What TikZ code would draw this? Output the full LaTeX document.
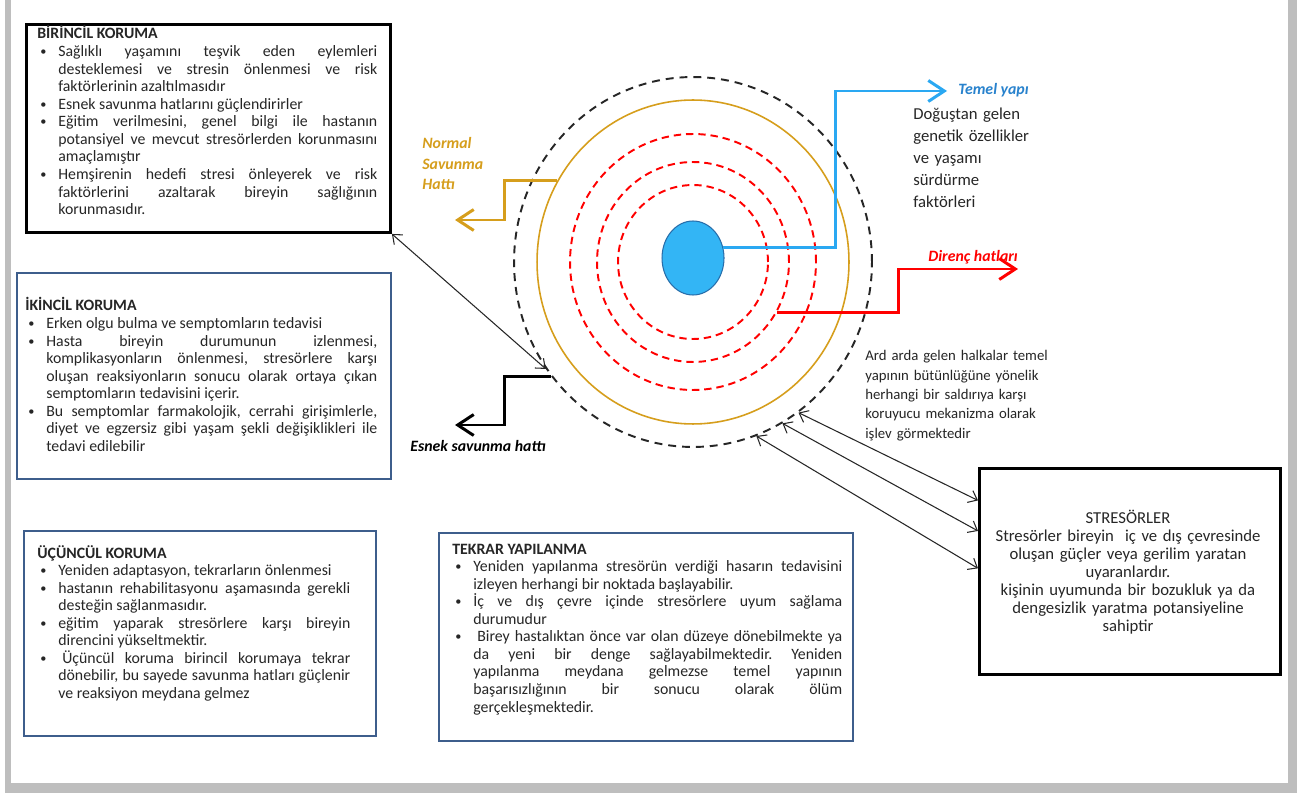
\documentclass[tikz,border=0pt]{standalone}
\usepackage{fontspec}
\setmainfont{Carlito}
\usetikzlibrary{calc,arrows.meta,shapes.geometric,positioning}

\definecolor{kutumavi}{RGB}{62,94,140}
\definecolor{temelmavi}{RGB}{42,168,242}
\definecolor{temelyazi}{RGB}{40,130,205}
\definecolor{cekirdek}{RGB}{51,181,245}
\definecolor{cekirdekkenar}{RGB}{40,110,170}
\definecolor{altin}{RGB}{214,158,28}
\definecolor{yazi}{RGB}{38,38,38}
\definecolor{kenar}{RGB}{190,190,190}

\frenchspacing
\newlength{\bulind}
\setlength{\bulind}{0.42cm}
\newcommand{\titem}[1]{\par\noindent\hangindent=\bulind\hangafter=1\makebox[\bulind][l]{\hspace{0.06cm}\raisebox{0.15ex}{\scriptsize\textbullet}}#1\par}

\begin{document}
\begin{tikzpicture}[x=0.02cm, y=-0.02cm,
    blackbox/.style={draw=black, line width=1.7pt, inner sep=0pt, anchor=north west},
    bluebox/.style={draw=kutumavi, line width=1.3pt, inner sep=0pt, anchor=north west},
    boxtext/.style={anchor=base west, inner sep=0pt, text=yazi, align=justify,
        font=\fontsize{9}{10}\selectfont,
        execute at begin node={\tolerance=10000\hyphenpenalty=10000\exhyphenpenalty=10000}},
    ring/.style={ellipse, inner sep=0pt, line width=1.1pt},
    redring/.style={ring, draw=red, dash pattern=on 4.2pt off 2.8pt},
    lbl/.style={inner sep=0pt, font=\fontsize{9}{11.4}\selectfont\bfseries\itshape},
    thickline/.style={line width=1.7pt, -{Straight Barb[length=0.32cm,width=0.42cm]}},
    twoway/.style={line width=0.6pt, black!85, {Straight Barb[length=1.6mm,width=2.6mm]}-{Straight Barb[length=1.6mm,width=2.6mm]}}
  ]
  % sayfa kenari
  \fill[white] (0,0) rectangle (1297,793);
  \fill[kenar] (5,0) rectangle (11,793);
  \fill[kenar] (1288,0) rectangle (1297,793);
  \fill[kenar] (5,783) rectangle (1297,793);
  \useasboundingbox (0,0) rectangle (1297,793);

  % halkalar
  \node[ring, draw=black!85, dash pattern=on 4.5pt off 3.4pt, minimum width=7.16cm, minimum height=7.4cm] (esnek) at (693,262) {};
  \node[ring, draw=altin, line width=0.9pt, minimum width=6.24cm, minimum height=6.48cm] (normal) at (693,262) {};
  \node[redring, minimum width=4.92cm, minimum height=5.12cm] (direnc3) at (693,262) {};
  \node[redring, minimum width=3.84cm, minimum height=4cm] (direnc2) at (693,262) {};
  \node[redring, minimum width=3cm, minimum height=3.08cm] (direnc1) at (693,262) {};
  \node[ring, fill=cekirdek, draw=cekirdekkenar, line width=0.6pt, minimum width=1.24cm, minimum height=1.48cm] (temel) at (693,258) {};

  % etiketler
  \node[lbl, text=temelyazi, anchor=base west] (temelLbl) at (958,95) {Temel yapı};
  \node[anchor=base west, inner sep=0pt, text width=3.2cm, align=left, text=yazi, font=\fontsize{9.5}{12.5}\selectfont] (temelAcik) at (913,120) {Doğuştan gelen\\genetik özellikler\\ve yaşamı\\sürdürme\\faktörleri};
  \node[lbl, text=red, anchor=base west] (direncLbl) at (928,262) {Direnç hatları};
  \node[lbl, text=altin, anchor=base west, text width=2cm, align=left] (normalLbl) at (422,149) {Normal\\Savunma\\Hattı};
  \node[lbl, anchor=base west] (esnekLbl) at (410,451) {Esnek savunma hattı};
  \node[anchor=base west, inner sep=0pt, text width=4.2cm, align=left, text=yazi, font=\fontsize{8.4}{11}\selectfont] (halkaAcik) at (865,361) {Ard arda gelen halkalar temel\\yapının bütünlüğüne yönelik\\herhangi bir saldırıya karşı\\koruyucu mekanizma olarak\\işlev görmektedir};

  % renkli oklar
  \coordinate (temelUc) at (947,91);
  \coordinate (direncUc) at (1018,269);
  \coordinate (normalUc) at (455,220);
  \coordinate (esnekUc) at (455,425);
  \draw[thickline, temelmavi] (temel.20) -- ++(112,0) |- (temelUc);
  \draw[thickline, red] (direnc2.-31) -- ++(122,0) |- (direncUc);
  \draw[thickline, altin] (normal.149) -- ++(-53,0) |- (normalUc);
  \draw[thickline, black] (esnek.-141) -- ++(-47,0) |- (esnekUc);

  % koruma kutulari
  \node[blackbox, minimum width=7.28cm, minimum height=4.16cm] (birincil) at (25,23) {};
  \node[boxtext, text width=6.8cm] (birincilYazi) at (37,39) {\textbf{BİRİNCİL KORUMA}\par
    \titem{Sağlıklı yaşamını teşvik eden eylemleri\linebreak desteklemesi ve stresin önlenmesi ve risk\linebreak faktörlerinin azaltılmasıdır}
    \titem{Esnek savunma hatlarını güçlendirirler}
    \titem{Eğitim verilmesini, genel bilgi ile hastanın\linebreak potansiyel ve mevcut stresörlerden korunmasını\linebreak amaçlamıştır}
    \titem{Hemşirenin hedefi stresi önleyerek ve risk\linebreak faktörlerini azaltarak bireyin sağlığının\linebreak korunmasıdır.}};

  \node[bluebox, minimum width=7.48cm, minimum height=4.12cm] (ikincil) at (16,272) {};
  \node[boxtext, text width=7.04cm] (ikincilYazi) at (25,311) {\textbf{İKİNCİL KORUMA}\par
    \titem{Erken olgu bulma ve semptomların tedavisi}
    \titem{Hasta bireyin durumunun izlenmesi,\linebreak komplikasyonların önlenmesi, stresörlere karşı\linebreak oluşan reaksiyonların sonucu olarak ortaya çıkan\linebreak semptomların tedavisini içerir.}
    \titem{Bu semptomlar farmakolojik, cerrahi girişimlerle,\linebreak diyet ve egzersiz gibi yaşam şekli değişiklikleri ile\linebreak tedavi edilebilir}};

  \node[bluebox, minimum width=7.04cm, minimum height=4.1cm] (ucuncul) at (23,530) {};
  \node[boxtext, text width=6.26cm] (ucunculYazi) at (37,558) {\textbf{ÜÇÜNCÜL KORUMA}\par
    \titem{Yeniden adaptasyon, tekrarların önlenmesi}
    \titem{hastanın rehabilitasyonu aşamasında gerekli\linebreak desteğin sağlanmasıdır.}
    \titem{eğitim yaparak stresörlere karşı bireyin\linebreak direncini yükseltmektir.}
    \titem{\hspace{0.08cm}Üçüncül koruma birincil korumaya tekrar\linebreak dönebilir, bu sayede savunma hatları güçlenir\linebreak ve reaksiyon meydana gelmez}};

  \node[bluebox, minimum width=8.28cm, minimum height=4.16cm] (tekrar) at (438,532) {};
  \node[boxtext, text width=7.8cm] (tekrarYazi) at (452,554) {\textbf{TEKRAR YAPILANMA}\par
    \titem{Yeniden yapılanma stresörün verdiği hasarın tedavisini\linebreak izleyen herhangi bir noktada başlayabilir.}
    \titem{İç ve dış çevre içinde stresörlere uyum sağlama\linebreak durumudur}
    \titem{\hspace{0.08cm}Birey hastalıktan önce var olan düzeye dönebilmekte ya\linebreak da yeni bir denge sağlayabilmektedir. Yeniden\linebreak yapılanma meydana gelmezse temel yapının\linebreak başarısızlığının bir sonucu olarak ölüm\linebreak gerçekleşmektedir.}};

  % stresorler
  \node[blackbox, minimum width=6.02cm, minimum height=4.12cm] (stres) at (978,467) {};
  \node[anchor=base, inner sep=0pt, text width=5.8cm, align=center, text=yazi, font=\fontsize{9.5}{10.3}\selectfont] (stresYazi) at (1128,523) {STRESÖRLER\\Stresörler bireyin\ \ iç ve dış çevresinde\\oluşan güçler veya gerilim yaratan\\uyaranlardır.\\kişinin uyumunda bir bozukluk ya da\\dengesizlik yaratma potansiyeline\\sahiptir};

  % cift yonlu oklar
  \draw[twoway] (birincil.south east) -- (esnek.-144);
  \foreach \k/\a in {0.16/-55, 0.306/-61, 0.485/-70}
    \draw[twoway] ($(stres.north west)!\k!(stres.south west)$) -- (esnek.\a);
\end{tikzpicture}
\end{document}
